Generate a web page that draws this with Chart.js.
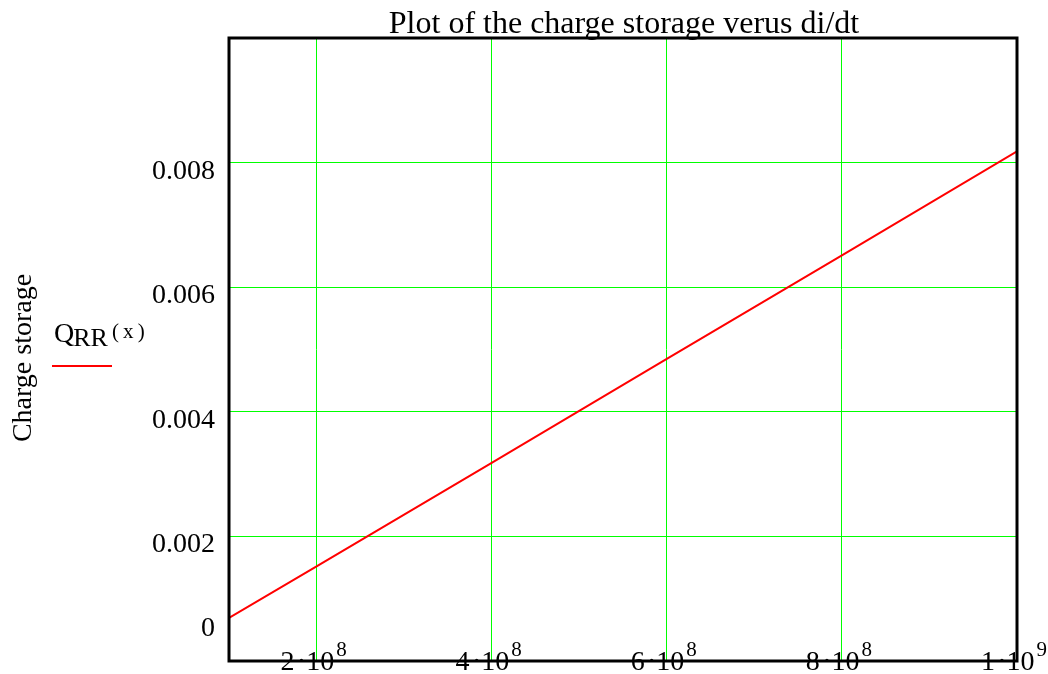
<!DOCTYPE html>
<html lang="en">
<head>
  <meta charset="UTF-8">
  <title>Charge storage vs di/dt</title>
  <script src="https://cdn.jsdelivr.net/npm/chart.js"></script>
  <style>
    body { margin: 0; background: #fff; }
  </style>
</head>
<body>
  <canvas id="qrrChart" width="1048" height="674"></canvas>

  <script>
    // values
    var didtValues = [1e8, 2e8, 4e8, 6e8, 8e8, 1e9];
    var qrrValues = [0.00069, 0.00152, 0.00318, 0.00485, 0.00651, 0.00818];

    // axis ticks
    var xTicks = [2e8, 4e8, 6e8, 8e8, 1e9];
    var xTickBase = ['2', '4', '6', '8', '1'];
    var xTickExp = ['8', '8', '8', '8', '9'];
    var yTicks = [0, 0.002, 0.004, 0.006, 0.008];
    var yTickLabels = ['0', '0.002', '0.004', '0.006', '0.008'];

    var chartTitle = 'Plot of the charge storage verus di/dt';
    var yAxisTitle = 'Charge storage';

    var serif = '"Liberation Serif", "Times New Roman", serif';

    // draws the frame, labels and legend in the Mathcad style
    var mathcadDecor = {
      id: 'mathcadDecor',
      afterDatasetsDraw: function(chart) {
        var ctx = chart.ctx;
        var area = chart.chartArea;
        var xs = chart.scales.x;
        var ys = chart.scales.y;

        ctx.save();
        ctx.strokeStyle = '#000';
        ctx.lineWidth = 3;
        ctx.strokeRect(area.left, area.top, area.right - area.left, area.bottom - area.top);

        ctx.fillStyle = '#000';
        ctx.textBaseline = 'alphabetic';

        // title
        ctx.font = '32px ' + serif;
        ctx.textAlign = 'center';
        ctx.fillText(chartTitle, 624, 33);

        // y tick labels
        ctx.font = '28px ' + serif;
        ctx.textAlign = 'right';
        for (var i = 0; i < yTicks.length; i++) {
          var py = ys.getPixelForValue(yTicks[i]);
          var shift = yTicks[i] === 0 ? -25 : 16;
          ctx.fillText(yTickLabels[i], 215, py + shift);
        }

        // x tick labels: "n·10" with a raised exponent
        ctx.textAlign = 'left';
        for (var j = 0; j < xTicks.length; j++) {
          var base = xTickBase[j] + '\u200a\u00b710';
          ctx.font = '28px ' + serif;
          var wBase = ctx.measureText(base).width;
          ctx.font = '21px ' + serif;
          var wExp = ctx.measureText(xTickExp[j]).width;
          var px = xs.getPixelForValue(xTicks[j]);
          var x0 = px - (wBase + wExp + 2) / 2 - 3;
          ctx.font = '28px ' + serif;
          ctx.fillText(base, x0, 670);
          ctx.font = '21px ' + serif;
          ctx.fillText(xTickExp[j], x0 + wBase + 2, 656);
        }

        // rotated y axis title
        ctx.save();
        ctx.translate(31, 358);
        ctx.rotate(-Math.PI / 2);
        ctx.font = '28px ' + serif;
        ctx.textAlign = 'center';
        ctx.fillText(yAxisTitle, 0, 0);
        ctx.restore();

        // legend: Q_RR(x) with a red sample line
        ctx.textAlign = 'left';
        ctx.font = '28px ' + serif;
        ctx.fillText('Q', 54, 342);
        var wq = ctx.measureText('Q').width;
        ctx.font = '26px ' + serif;
        ctx.fillText('RR', 54 + wq - 1, 346);
        var wrr = ctx.measureText('RR').width;
        ctx.font = '21px ' + serif;
        ctx.fillText('(\u2009x\u2009)', 54 + wq + wrr + 3, 338);

        ctx.strokeStyle = '#ff0000';
        ctx.lineWidth = 2;
        ctx.beginPath();
        ctx.moveTo(52, 366);
        ctx.lineTo(112, 366);
        ctx.stroke();

        ctx.restore();
      }
    };

    var ctx = document.getElementById('qrrChart').getContext('2d');
    var chart = new Chart(ctx, {
      type: 'line',
      data: {
        datasets: [{
          label: 'QRR(x)',
          data: didtValues.map(function(v, i) { return { x: v, y: qrrValues[i] }; }),
          borderColor: '#ff0000',
          borderWidth: 2,
          pointRadius: 0,
          fill: false,
          tension: 0
        }]
      },
      options: {
        responsive: false,
        animation: false,
        layout: {
          padding: { left: 229, top: 38, right: 31, bottom: 13 }
        },
        plugins: {
          legend: { display: false },
          title: { display: false },
          tooltip: { enabled: false }
        },
        scales: {
          x: {
            type: 'linear',
            min: 1e8,
            max: 1e9,
            afterBuildTicks: function(scale) {
              scale.ticks = xTicks.map(function(v) { return { value: v }; });
            },
            ticks: { display: false },
            border: { display: false },
            grid: { color: '#00ff00', lineWidth: 1, drawTicks: false }
          },
          y: {
            type: 'linear',
            min: 0,
            max: 0.01,
            afterBuildTicks: function(scale) {
              scale.ticks = yTicks.map(function(v) { return { value: v }; });
            },
            ticks: { display: false },
            border: { display: false },
            grid: { color: '#00ff00', lineWidth: 1, drawTicks: false }
          }
        }
      },
      plugins: [mathcadDecor]
    });
  </script>
</body>
</html>
